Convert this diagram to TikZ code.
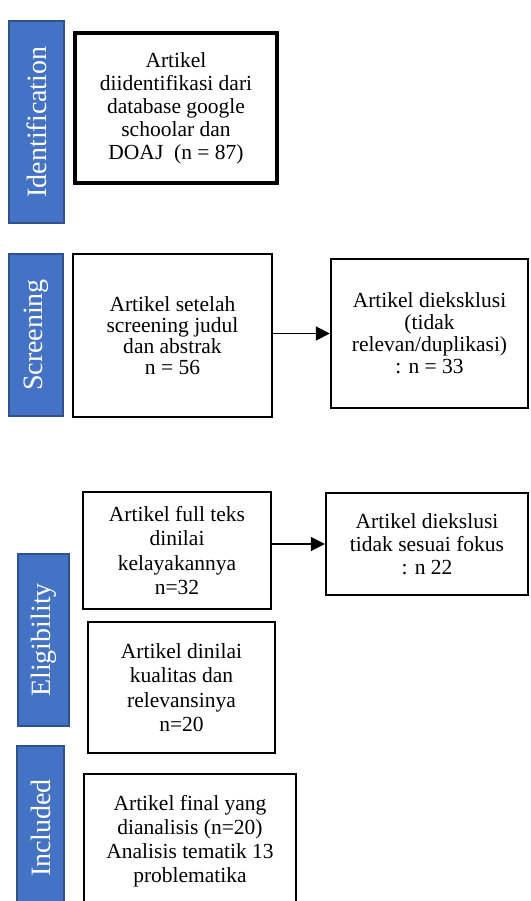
\documentclass[tikz,border=0pt]{standalone}
\usepackage{fontspec}
\setmainfont{Liberation Serif}
\usetikzlibrary{arrows.meta}
\definecolor{barfill}{HTML}{4472C4}
\definecolor{barline}{HTML}{2F528F}
\tikzset{
  phasebar/.style={draw=barline, line width=2pt, fill=barfill, text=white, inner sep=0pt,
    font=\fontsize{28}{30}\selectfont, rotate=90},
  flowbox/.style={draw=black, line width=2.4pt, fill=white, inner sep=0pt, align=center,
    font=\fontsize{21.5}{23}\selectfont},
  flowarrow/.style={draw=black, line width=1.8pt, -{Triangle[length=14pt,width=14pt]}}
}
\begin{document}
\begin{tikzpicture}[x=1pt,y=-1pt]
\useasboundingbox (0,0) rectangle (530,901);
% phase bars (rotated: minimum width = vertical extent)
\node[phasebar, minimum width=202pt, minimum height=55pt] (idbar) at (36.5,122) {Identification};
\node[phasebar, minimum width=162pt, minimum height=54pt] (scbar) at (36,335) {Screening};
\node[phasebar, minimum width=172pt, minimum height=51pt] (elbar) at (43.5,640) {Eligibility};
\node[phasebar, minimum width=165pt, minimum height=47pt] (inbar) at (40.5,828) {Included};
% boxes
\node[flowbox, line width=3.2pt, minimum width=202pt, minimum height=150pt] (b1) at (176,108)
  {Artikel\\diidentifikasi dari\\database google\\schoolar dan\\DOAJ\ \ (n = 87)};
\node[flowbox, minimum width=199pt, minimum height=163pt, font=\fontsize{21.5}{21}\selectfont] (b2) at (172.5,335.5)
  {Artikel setelah\\screening judul\\dan abstrak\\n = 56};
\node[flowbox, minimum width=197pt, minimum height=149pt, font=\fontsize{21.5}{22}\selectfont] (b3) at (429.5,333.5)
  {Artikel dieksklusi\\(tidak\\relevan/duplikasi)\\: n = 33};
\node[flowbox, minimum width=188pt, minimum height=117pt, font=\fontsize{21.5}{24.5}\selectfont] (b4) at (177,550.5)
  {Artikel full teks\\dinilai\\kelayakannya\\n=32};
\node[flowbox, minimum width=202pt, minimum height=102pt] (b5) at (427,544)
  {Artikel diekslusi\\tidak sesuai fokus\\: n 22};
\node[flowbox, minimum width=187pt, minimum height=131pt, font=\fontsize{21.5}{24.5}\selectfont] (b6) at (181.5,687.5)
  {Artikel dinilai\\kualitas dan\\relevansinya\\n=20};
\node[flowbox, minimum width=212pt, minimum height=134pt, font=\fontsize{21.5}{24}\selectfont] (b7) at (190,841)
  {Artikel final yang\\dianalisis (n=20)\\Analisis tematik 13\\problematika};
% arrows
\draw[flowarrow] (b2.east |- b3.west) -- (b3.west);
\draw[flowarrow] (b4.east |- b5.west) -- (b5.west);
\end{tikzpicture}
\end{document}
